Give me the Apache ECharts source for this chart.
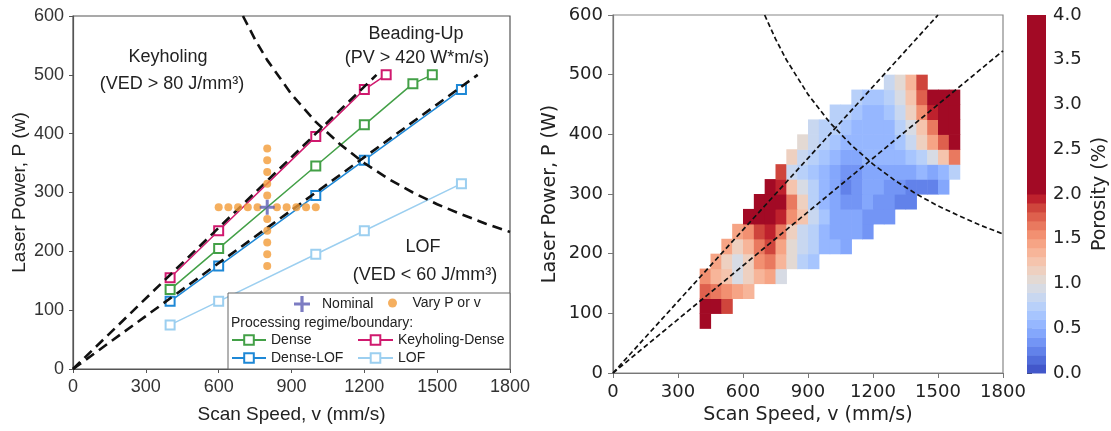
<!DOCTYPE html>
<html>
<head>
<meta charset="utf-8">
<script src="https://cdn.jsdelivr.net/npm/echarts@6/dist/echarts.min.js"></script>
<style>
  html, body { margin: 0; background: #fff; }
  #chart { width: 1111px; height: 431px; }
</style>
</head>
<body>
<div id="chart"></div>
<script>
// Process map (left) + porosity contour (right)

// ---- left panel: processing regimes ----
const KD_SPEED = [400, 600, 1000, 1200, 1290];
const KD_POWER = [155, 235, 395, 475, 500];
const DENSE_SPEED = [400, 600, 1000, 1200, 1400, 1480];
const DENSE_POWER = [135, 205, 345, 415, 485, 500];
const DL_SPEED = [400, 600, 1000, 1200, 1600];
const DL_POWER = [115, 175, 295, 355, 475];
const LOF_SPEED = [400, 600, 1000, 1200, 1600];
const LOF_POWER = [75, 115, 195, 235, 315];

const NOMINAL = [800, 275];
const VARY_V_SPEEDS = [600, 640, 680, 720, 760, 840, 880, 920, 960, 1000];
const VARY_V_POWER = 275;
const VARY_P_POWERS = [175, 195, 215, 235, 255, 295, 315, 335, 355, 375];
const VARY_P_SPEED = 800;

// boundary lines (VED 80, VED 60, PV 420)
const VED80_LEFT = [[0, 0], [1250, 500]];
const VED60_LEFT = [[0, 0], [1667, 500]];
const VED80_RIGHT = [[0, 0], [1500, 600]];
const VED60_RIGHT = [[0, 0], [1800, 540]];
const PV_SPEED = [700, 750, 800, 900, 1000, 1100, 1200, 1300, 1400, 1500, 1600, 1700, 1800];
const PV_POWER = [600, 560, 525, 467, 420, 382, 350, 323, 300, 280, 263, 247, 233];

// ---- right panel: porosity grid (cell centres) ----
const HEAT_SPEEDS = [425, 475, 525, 575, 625, 675, 725, 775, 825, 875, 925, 975,
  1025, 1075, 1125, 1175, 1225, 1275, 1325, 1375, 1425, 1475, 1525, 1575];
const HEAT_POWERS = [87.5, 112.5, 137.5, 162.5, 187.5, 212.5, 237.5, 262.5, 287.5,
  312.5, 337.5, 362.5, 387.5, 412.5, 437.5, 462.5, 487.5];
const CELL_V = 50, CELL_P = 25;
// first filled column of each row, then that row's porosity values (%)
const ROW_START = [0, 0, 0, 0, 1, 2, 3, 4, 5, 6, 7, 8, 9, 10, 12, 14, 17];
const ROW_VALUES = [
  [3.0],
  [2.5, 2.2, 1.8],
  [1.7, 1.6, 1.5, 1.4, 1.3],
  [1.5, 1.3, 1.2, 0.95, 1.1, 1.3, 1.4, 0.9],
  [1.4, 1.1, 0.9, 1.1, 1.5, 1.6, 1.3, 1.0, 0.75, 0.6],
  [1.4, 1.1, 1.3, 1.6, 1.8, 1.4, 1.0, 0.85, 0.7, 0.55, 0.5, 0.45],
  [1.4, 1.5, 1.8, 2.0, 1.6, 1.1, 0.85, 0.7, 0.55, 0.45, 0.4, 0.4, 0.35],
  [3.0, 3.0, 3.0, 2.0, 1.5, 1.2, 0.8, 0.6, 0.45, 0.4, 0.4, 0.35, 0.35, 0.3],
  [3.0, 3.0, 2.2, 1.6, 1.1, 0.75, 0.55, 0.4, 0.3, 0.35, 0.4, 0.35, 0.3, 0.2, 0.2],
  [3.0, 2.0, 1.2, 0.9, 0.7, 0.55, 0.45, 0.25, 0.35, 0.4, 0.4, 0.35, 0.3, 0.25, 0.2, 0.25, 0.4],
  [1.8, 0.85, 0.7, 0.6, 0.5, 0.45, 0.3, 0.35, 0.45, 0.45, 0.45, 0.45, 0.45, 0.5, 0.45, 0.55, 0.75],
  [1.1, 0.8, 0.7, 0.6, 0.5, 0.45, 0.45, 0.5, 0.5, 0.5, 0.55, 0.6, 0.75, 0.95, 1.2, 1.6],
  [1.05, 0.8, 0.7, 0.6, 0.55, 0.5, 0.5, 0.5, 0.55, 0.6, 0.8, 1.1, 1.4, 1.7, 2.5],
  [0.85, 0.75, 0.7, 0.6, 0.55, 0.5, 0.5, 0.55, 0.7, 0.9, 1.25, 1.6, 2.1, 3.0],
  [0.75, 0.7, 0.6, 0.55, 0.55, 0.65, 0.8, 1.15, 1.5, 1.9, 3.0, 3.0],
  [0.7, 0.6, 0.6, 0.7, 0.9, 1.25, 1.7, 2.5, 3.0, 3.0],
  [0.8, 1.0, 1.3, 1.8],
];

// colour bar levels (contour bands) and coolwarm colours per band
const LEVELS = [0.0, 0.1, 0.2, 0.3, 0.4, 0.5, 0.6, 0.7, 0.8, 0.9, 1.0,
  1.1, 1.2, 1.3, 1.4, 1.5, 1.6, 1.7, 1.8, 1.9, 2.0, 4.0];
const BAND_COLORS = ['#4257ca', '#516ddb', '#6282ea', '#7395f5', '#84a7fc', '#96b7ff',
  '#a7c5fe', '#b8d0f9', '#c8d7f0', '#d7dbe4', '#e3d9d3', '#eed0c0', '#f5c4ad', '#f7b599',
  '#f6a485', '#f29071', '#e9795f', '#de604d', '#cf453c', '#be212d'];
const OVER_COLOR = '#a20a25';

const C = {
  kd: '#d0196e', dense: '#43a047', dl: '#1e88d6', lof: '#9ccff0',
  vary: '#f39b37', nominal: '#5b5bb3', dash: '#111',
};
const LEFT_FONT = 'Liberation Sans';
const RIGHT_FONT = 'DejaVu Sans';
const PLUS = 'path://M4,0H6V4H10V6H6V10H4V6H0V4H4Z';

const zip = (xs, ys) => xs.map((x, i) => [x, ys[i]]);
const plain = (v) => String(v);

const heatData = [];
ROW_VALUES.forEach((vals, r) => {
  vals.forEach((val, k) => heatData.push([HEAT_SPEEDS[ROW_START[r] + k], HEAT_POWERS[r], val]));
});

const cbarData = [];
for (let i = 0; i < LEVELS.length - 1; i++) {
  cbarData.push([0, LEVELS[i], (LEVELS[i] + LEVELS[i + 1]) / 2, LEVELS[i + 1]]);
}

const pieces = BAND_COLORS.map((color, i) => (
  i === BAND_COLORS.length - 1
    ? { gte: LEVELS[i], lte: LEVELS[i + 1], color }
    : { gte: LEVELS[i], lt: LEVELS[i + 1], color }
));
pieces.push({ gt: LEVELS[LEVELS.length - 2], color: OVER_COLOR });

function lineSeries(name, speeds, powers, color) {
  return {
    name, type: 'line', xAxisIndex: 0, yAxisIndex: 0,
    data: zip(speeds, powers),
    symbol: 'rect', symbolSize: 9,
    lineStyle: { color, width: 1.5 },
    itemStyle: { color: '#fff', borderColor: color, borderWidth: 2 },
    z: 3,
  };
}

function dashSeries(data, axis, width, dash) {
  return {
    type: 'line', xAxisIndex: axis, yAxisIndex: axis, data,
    symbol: 'none', silent: true,
    lineStyle: { color: C.dash, width, type: dash },
    z: 4,
  };
}

function legendItem(name, left, top, itemWidth, itemHeight) {
  return {
    data: [name], left, top, padding: 0, itemWidth, itemHeight,
    selectedMode: false, z: 12,
    textStyle: { fontFamily: LEFT_FONT, fontSize: 14, color: '#222' },
  };
}

const leftAxisCommon = {
  axisLine: { lineStyle: { color: '#555', width: 1.2 } },
  axisTick: { length: 4, lineStyle: { color: '#555' } },
  splitLine: { show: false },
  axisLabel: { fontFamily: LEFT_FONT, fontSize: 18, color: '#333', margin: 9, formatter: plain },
  nameTextStyle: { fontFamily: LEFT_FONT, fontSize: 19, color: '#222' },
  nameLocation: 'middle',
};
const rightAxisCommon = {
  axisLine: { lineStyle: { color: '#777', width: 1.2 } },
  axisTick: { length: 5, lineStyle: { color: '#777' } },
  splitLine: { show: false },
  axisLabel: { fontFamily: RIGHT_FONT, fontSize: 18, color: '#222', margin: 10, formatter: plain },
  nameTextStyle: { fontFamily: RIGHT_FONT, fontSize: 19, color: '#222' },
  nameLocation: 'middle',
};

const annText = (text, x, y) => ({
  type: 'text', x, y, z: 8,
  style: {
    text, fontFamily: LEFT_FONT, fontSize: 18, fill: '#222',
    align: 'center', verticalAlign: 'middle',
  },
});

const option = {
  animation: false,
  backgroundColor: '#fff',
  grid: [
    { left: 73, top: 16, width: 437, height: 353, show: true, borderColor: '#555', borderWidth: 1.2 },
    { left: 613, top: 15, width: 390, height: 358, show: true, borderColor: '#888', borderWidth: 1.2 },
    { left: 1027, top: 15, width: 20, height: 358 },
  ],
  xAxis: [
    { ...leftAxisCommon, gridIndex: 0, type: 'value', min: 0, max: 1800, interval: 300,
      name: 'Scan Speed, v (mm/s)', nameGap: 36 },
    { ...rightAxisCommon, gridIndex: 1, type: 'value', min: 0, max: 1800, interval: 300,
      name: 'Scan Speed, v (mm/s)', nameGap: 31 },
    { gridIndex: 2, type: 'value', min: 0, max: 1, show: false },
  ],
  yAxis: [
    { ...leftAxisCommon, gridIndex: 0, type: 'value', min: 0, max: 600, interval: 100,
      name: 'Laser Power, P (w)', nameGap: 44 },
    { ...rightAxisCommon, gridIndex: 1, type: 'value', min: 0, max: 600, interval: 100,
      name: 'Laser Power, P (W)', nameGap: 53 },
    { ...rightAxisCommon, gridIndex: 2, type: 'value', min: 0, max: 4, interval: 0.5,
      position: 'right', axisLine: { show: false },
      axisTick: { show: true, length: 5, lineStyle: { color: '#444' } },
      axisLabel: { ...rightAxisCommon.axisLabel, margin: 7, formatter: (v) => v.toFixed(1) },
      name: 'Porosity (%)', nameGap: 45 },
  ],
  visualMap: {
    type: 'piecewise', show: false, dimension: 2, seriesIndex: [9, 13], pieces,
  },
  legend: [
    legendItem('Nominal', 294, 296, 30, 16),
    legendItem('Vary P or v', 388, 296, 30, 9),
    legendItem('Dense', 231, 333, 34, 12),
    legendItem('Keyholing-Dense', 357, 333, 35, 12),
    legendItem('Dense-LOF', 231, 351, 34, 12),
    legendItem('LOF', 357, 351, 35, 12),
  ],
  graphic: [
    { type: 'rect', shape: { x: 228, y: 293, width: 282, height: 76 }, z: 10,
      style: { fill: '#fff', stroke: '#666', lineWidth: 1 } },
    { type: 'text', x: 231, y: 323, z: 11,
      style: { text: 'Processing regime/boundary:', fontFamily: LEFT_FONT, fontSize: 14,
        fill: '#222', verticalAlign: 'middle' } },
    annText('Keyholing', 168, 57),
    annText('(VED > 80 J/mm³)', 172, 84),
    annText('Beading-Up', 416, 34),
    annText('(PV > 420 W*m/s)', 417, 58),
    annText('LOF', 423, 247),
    annText('(VED < 60 J/mm³)', 425, 275),
  ],
  series: [
    lineSeries('LOF', LOF_SPEED, LOF_POWER, C.lof),
    lineSeries('Dense-LOF', DL_SPEED, DL_POWER, C.dl),
    lineSeries('Dense', DENSE_SPEED, DENSE_POWER, C.dense),
    lineSeries('Keyholing-Dense', KD_SPEED, KD_POWER, C.kd),
    dashSeries(VED80_LEFT, 0, 2.6, [10, 6]),
    dashSeries(VED60_LEFT, 0, 2.6, [10, 6]),
    dashSeries(zip(PV_SPEED, PV_POWER), 0, 2.6, [10, 6]),
    {
      name: 'Vary P or v', type: 'scatter', xAxisIndex: 0, yAxisIndex: 0,
      data: VARY_V_SPEEDS.map((v) => [v, VARY_V_POWER])
        .concat(VARY_P_POWERS.map((p) => [VARY_P_SPEED, p])),
      symbol: 'circle', symbolSize: 8, itemStyle: { color: C.vary }, z: 5,
    },
    {
      name: 'Nominal', type: 'scatter', xAxisIndex: 0, yAxisIndex: 0,
      data: [NOMINAL], symbol: PLUS, symbolSize: 15,
      itemStyle: { color: C.nominal }, z: 6,
    },
    {
      type: 'custom', xAxisIndex: 1, yAxisIndex: 1, data: heatData,
      encode: { x: 0, y: 1 }, silent: true,
      renderItem(params, api) {
        const v = api.value(0), p = api.value(1);
        const tl = api.coord([v - CELL_V / 2, p + CELL_P / 2]);
        const br = api.coord([v + CELL_V / 2, p - CELL_P / 2]);
        return {
          type: 'rect',
          shape: { x: tl[0], y: tl[1], width: br[0] - tl[0] + 0.6, height: br[1] - tl[1] + 0.6 },
          style: { fill: api.visual('color') },
        };
      },
      z: 2,
    },
    dashSeries(VED80_RIGHT, 1, 1.7, [5, 3]),
    dashSeries(VED60_RIGHT, 1, 1.7, [5, 3]),
    dashSeries(zip(PV_SPEED, PV_POWER), 1, 1.7, [5, 3]),
    {
      type: 'custom', xAxisIndex: 2, yAxisIndex: 2, data: cbarData,
      encode: { x: 0, y: [1, 3] }, silent: true,
      renderItem(params, api) {
        const lo = api.coord([0, api.value(1)]);
        const hi = api.coord([1, api.value(3)]);
        return {
          type: 'rect',
          shape: { x: lo[0], y: hi[1], width: hi[0] - lo[0], height: lo[1] - hi[1] + 0.5 },
          style: { fill: api.visual('color') },
        };
      },
    },
  ],
};

const chart = echarts.init(document.getElementById('chart'), null, { renderer: 'canvas' });
chart.setOption(option);
</script>
</body>
</html>
